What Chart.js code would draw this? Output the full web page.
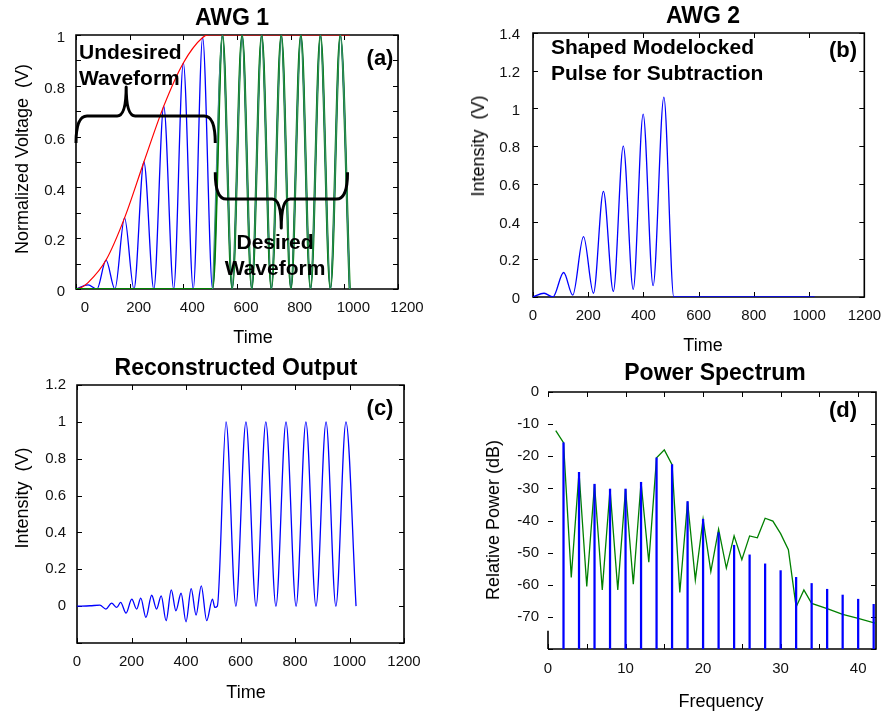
<!DOCTYPE html>
<html>
<head>
<meta charset="utf-8">
<script src="https://cdn.jsdelivr.net/npm/chart.js@4.4.0/dist/chart.umd.min.js"></script>
<style>
  body { margin: 0; background: #fff; }
  #fig { position: relative; width: 891px; height: 713px; font-family: Arial, "Liberation Sans", sans-serif; color: #000; overflow: hidden; }
  #fig canvas { position: absolute; }
  .t { position: absolute; white-space: pre; line-height: 1; transform: translate(-50%, -50%); }
  .l { position: absolute; white-space: pre; line-height: 1; transform: translate(0, -50%); }
  .title { font-weight: bold; font-size: 23px; }
  .ax { font-size: 18px; }
  .rot { transform: translate(-50%, -50%) rotate(-90deg); }
  .tag { font-weight: bold; font-size: 22px; }
  .note { font-weight: bold; font-size: 21px; }
</style>
</head>
<body>
<div id="fig">
  <canvas id="awg1" width="445" height="350" style="left:0;top:0"></canvas>
  <canvas id="awg2" width="446" height="350" style="left:445px;top:0"></canvas>
  <canvas id="recon" width="445" height="363" style="left:0;top:350px"></canvas>
  <canvas id="spectrum" width="446" height="363" style="left:445px;top:350px"></canvas>

  <div class="t title" style="left:232px;top:17px">AWG 1</div>
  <div class="t title" style="left:703px;top:15px">AWG 2</div>
  <div class="t title" style="left:236px;top:367px">Reconstructed Output</div>
  <div class="t title" style="left:715px;top:372px">Power Spectrum</div>

  <div class="t ax rot" style="left:22px;top:159px">Normalized Voltage  (V)</div>
  <div class="t ax" style="left:253px;top:337px">Time</div>
  <div class="t ax rot" style="left:478px;top:146px">Intensity  (V)</div>
  <div class="t ax" style="left:703px;top:345px">Time</div>
  <div class="t ax rot" style="left:22px;top:498px">Intensity  (V)</div>
  <div class="t ax" style="left:246px;top:692px">Time</div>
  <div class="t ax rot" style="left:493px;top:520px">Relative Power (dB)</div>
  <div class="t ax" style="left:721px;top:701px">Frequency</div>

  <div class="t tag" style="left:380px;top:58px">(a)</div>
  <div class="t tag" style="left:843px;top:50px">(b)</div>
  <div class="t tag" style="left:380px;top:408px">(c)</div>
  <div class="t tag" style="left:843px;top:410px">(d)</div>

  <div class="l note" style="left:79px;top:51px">Undesired</div>
  <div class="l note" style="left:79px;top:77px">Waveform</div>
  <div class="t note" style="left:275px;top:241px">Desired</div>
  <div class="t note" style="left:275px;top:267px">Waveform</div>
  <div class="l note" style="left:551px;top:46px">Shaped Modelocked</div>
  <div class="l note" style="left:551px;top:72px">Pulse for Subtraction</div>
</div>

<script>
// (a) AWG 1 - peaks and troughs
const awg1UndesiredTime = [0, 45, 78, 112, 145, 181, 216, 253, 290, 327, 364, 400, 437, 472, 509];
const awg1UndesiredLevel = [0, 0.016, 0, 0.114, 0, 0.28, 0, 0.5, 0, 0.72, 0, 0.89, 0, 0.99, 0];
const awg1DesiredTime = [509, 546, 582, 619, 655, 692, 728, 765, 801, 838, 874, 911, 948, 985, 1020];
const awg1DesiredLevel = [0, 1, 0, 1, 0, 1, 0, 1, 0, 1, 0, 1, 0, 1, 0];
const envelopeTime = [0, 20, 45, 112, 181, 253, 327, 400, 472, 495, 1020];
const envelopeLevel = [0, 0.006, 0.025, 0.114, 0.28, 0.5, 0.72, 0.89, 0.99, 1, 1];

// (b) AWG 2 shaped pulse
const pulseTime = [0, 40, 72, 111, 144, 183, 219, 255, 291, 327, 363, 399, 435, 474, 510, 1020];
const pulseLevel = [0, 0.02, 0, 0.13, 0.01, 0.32, 0.02, 0.56, 0.03, 0.80, 0.04, 0.97, 0.06, 1.06, 0, 0];

// (c) reconstructed output
const reconTime = [0, 48, 84, 106, 127, 146, 160, 180, 201, 219, 234, 253, 274, 292, 309, 327, 346, 363, 382,
  400, 419, 437, 456, 476, 497, 506, 515, 547, 583, 620, 657, 693, 730, 767, 804, 840, 877, 914, 950, 987, 1024];
const reconLevel = [0, 0.002, 0.005, -0.016, 0.016, -0.007, 0.02, -0.038, 0.038, -0.016, 0.043, -0.061, 0.059,
  -0.016, 0.056, -0.079, 0.088, -0.025, 0.07, -0.085, 0.095, -0.048, 0.11, -0.079, 0.038, -0.007, 0,
  1, 0, 1, 0, 1, 0, 1, 0, 1, 0, 1, 0, 1, 0];

// (d) power spectrum
const stemFreq = [2, 4, 6, 8, 10, 12, 14, 16, 18, 20, 22, 24, 26, 28, 30, 32, 34, 36, 38, 40, 42];
const stemPower = [-15.8, -25, -28.7, -30.2, -30.2, -28.1, -20.5, -22.6, -34.1, -39.6, -43.8, -47.7,
  -50.7, -53.5, -55.6, -57.7, -59.6, -61.4, -63.2, -64.5, -66.1];
const specFreq = [1, 2, 3, 4, 5, 6, 7, 8, 9, 10, 11, 12, 13, 14, 15, 16, 17, 18, 19, 20, 21, 22, 23, 24,
  25, 26, 27, 28, 29, 30, 31, 32, 33, 34, 36, 38, 40, 42.3];
const specPower = [-12, -15.8, -57.7, -25, -60.5, -28.7, -61.6, -30.2, -61.6, -30.2, -59.8, -28.1, -53,
  -20.5, -18, -22.6, -62.4, -34.1, -58.5, -39.6, -55.9, -42.7, -54.8, -44.8, -52.2, -44.8, -45.4, -39.3,
  -40.2, -44.1, -49.1, -66.9, -61.6, -65.8, -67.4, -69.2, -70.5, -72];

Chart.defaults.font.family = 'Arial, "Liberation Sans", sans-serif';
Chart.defaults.font.size = 15;
Chart.defaults.color = '#111';

function pts(xs, ys) {
  return xs.map((x, i) => ({ x: x, y: ys[i] }));
}

// tidy tick text, 0.8000000001 -> "0.8"
function fmt(v) {
  return String(+v.toFixed(3));
}

// box round the plot with inward ticks, MATLAB style
const frameTicks = {
  id: 'frameTicks',
  beforeDatasetsDraw(chart, args, opts) {
    const ctx = chart.ctx;
    const a = chart.chartArea;
    const xs = chart.scales.x, ys = chart.scales.y;
    ctx.save();
    ctx.strokeStyle = '#000';
    ctx.lineWidth = 1;
    ctx.beginPath();
    xs.ticks.forEach(t => {
      const px = Math.round(xs.getPixelForValue(t.value)) + 0.5;
      ctx.moveTo(px, a.bottom); ctx.lineTo(px, a.bottom - 5);
      ctx.moveTo(px, a.top); ctx.lineTo(px, a.top + 5);
    });
    ys.ticks.forEach(t => {
      const py = Math.round(ys.getPixelForValue(t.value)) + 0.5;
      ctx.moveTo(a.left, py); ctx.lineTo(a.left + 5, py);
      ctx.moveTo(a.right, py); ctx.lineTo(a.right - 5, py);
    });
    ctx.stroke();
    ctx.lineWidth = 1.6;
    ctx.beginPath();
    ctx.moveTo(a.left, a.top);
    ctx.lineTo(a.right, a.top);
    ctx.lineTo(a.right, a.bottom);
    ctx.lineTo(a.left, a.bottom);
    if (opts.leftTo !== undefined) {
      ctx.moveTo(a.left, a.bottom);
      ctx.lineTo(a.left, ys.getPixelForValue(opts.leftTo));
    } else {
      ctx.closePath();
    }
    ctx.stroke();
    ctx.restore();
  }
};

// curly braces in panel (a), placed in data units
const braces = [
  { x1: 0, x2: 519, xm: 187, yEnd: 0.575, yBar: 0.681, yTip: 0.795 },
  { x1: 519, x2: 1012, xm: 765, yEnd: 0.46, yBar: 0.354, yTip: 0.24 }
];
const bracePlugin = {
  id: 'bracePlugin',
  afterDatasetsDraw(chart) {
    const ctx = chart.ctx;
    const xs = chart.scales.x, ys = chart.scales.y;
    ctx.save();
    ctx.strokeStyle = '#000';
    ctx.lineWidth = 3;
    ctx.lineJoin = 'round';
    braces.forEach(b => {
      const x1 = xs.getPixelForValue(b.x1), x2 = xs.getPixelForValue(b.x2), xm = xs.getPixelForValue(b.xm);
      const ye = ys.getPixelForValue(b.yEnd), yb = ys.getPixelForValue(b.yBar), yt = ys.getPixelForValue(b.yTip);
      const r = 11, s = 9;
      ctx.beginPath();
      ctx.moveTo(x1, ye);
      ctx.quadraticCurveTo(x1, yb, x1 + r, yb);
      ctx.lineTo(xm - s, yb);
      ctx.quadraticCurveTo(xm, yb, xm, yt);
      ctx.quadraticCurveTo(xm, yb, xm + s, yb);
      ctx.lineTo(x2 - r, yb);
      ctx.quadraticCurveTo(x2, yb, x2, ye);
      ctx.stroke();
    });
    ctx.restore();
  }
};

function panelOptions(p) {
  return {
    responsive: false,
    animation: false,
    devicePixelRatio: 1,
    layout: { padding: p.pad },
    plugins: { legend: { display: false }, tooltip: { enabled: false }, frameTicks: p.frame || {} },
    elements: {
      point: { radius: 0 },
      line: { borderWidth: 1.3, cubicInterpolationMode: 'monotone' }
    },
    scales: {
      x: {
        type: 'linear', min: p.x[0], max: p.x[1], offset: false,
        grid: { display: false, drawTicks: false, offset: false }, border: { display: false },
        afterFit: s => { s.height = 30; },
        ticks: {
          stepSize: p.x[2], padding: p.xPad, labelOffset: p.xOffset || 0,
          includeBounds: false, autoSkip: false, maxRotation: 0,
          callback: p.xLabel || fmt
        }
      },
      y: {
        type: 'linear', min: p.y[0], max: p.y[1],
        grid: { display: false, drawTicks: false }, border: { display: false },
        afterFit: s => { s.width = 40; },
        ticks: {
          stepSize: p.y[2], padding: p.yPad, labelOffset: p.yOffset || 0,
          includeBounds: false, autoSkip: false,
          callback: p.yLabel || fmt
        }
      }
    }
  };
}

// (a)
new Chart(document.getElementById('awg1'), {
  type: 'line',
  data: {
    datasets: [
      { data: pts(awg1DesiredTime, awg1DesiredLevel), borderColor: '#3f8a84', borderWidth: 1.1 },
      { data: [{ x: 0, y: 0 }].concat(pts(awg1DesiredTime, awg1DesiredLevel)), borderColor: '#008000', borderWidth: 2.2 },
      { data: pts(envelopeTime, envelopeLevel), borderColor: '#ff0000', borderWidth: 1.2 },
      { data: pts(awg1UndesiredTime, awg1UndesiredLevel).concat(pts(awg1DesiredTime, awg1DesiredLevel).slice(1)), borderColor: '#0000ff' }
    ]
  },
  options: panelOptions({
    pad: { left: 36, right: 47, top: 35, bottom: 31 },
    x: [0, 1200, 200], xPad: 10, xOffset: 9,
    y: [0, 1, 0.1], yPad: 11, yOffset: 3,
    yLabel: v => (Math.round(v * 10) % 2 === 0 ? fmt(v) : '')
  }),
  plugins: [frameTicks, bracePlugin]
});

// (b)
new Chart(document.getElementById('awg2'), {
  type: 'line',
  data: { datasets: [{ data: pts(pulseTime, pulseLevel), borderColor: '#0000ff' }] },
  options: panelOptions({
    pad: { left: 48, right: 24, top: 33, bottom: 23 },
    x: [0, 1200, 200], xPad: 10,
    y: [0, 1.4, 0.2], yPad: 13, yOffset: 2
  }),
  plugins: [frameTicks]
});

// (c)
new Chart(document.getElementById('recon'), {
  type: 'line',
  data: { datasets: [{ data: pts(reconTime, reconLevel), borderColor: '#0000ff' }] },
  options: panelOptions({
    pad: { left: 37, right: 41, top: 35, bottom: 40 },
    x: [0, 1200, 200], xPad: 10,
    y: [-0.2, 1.2, 0.2], yPad: 11,
    yLabel: v => (v < -0.1 ? '' : fmt(v))
  }),
  plugins: [frameTicks]
});

// (d)
new Chart(document.getElementById('spectrum'), {
  data: {
    datasets: [
      { type: 'bar', data: pts(stemFreq, stemPower), base: -80, backgroundColor: '#0000ff', barThickness: 1.6, borderWidth: 0 },
      { type: 'line', data: pts(specFreq, specPower), borderColor: '#008000', borderWidth: 1.3, cubicInterpolationMode: 'default', tension: 0 }
    ]
  },
  options: panelOptions({
    pad: { left: 63, right: 15, top: 42, bottom: 34 },
    x: [0, 42.3, 5], xPad: 11,
    xLabel: v => (v % 10 === 0 ? fmt(v) : ''),
    y: [-80, 0, 10], yPad: 9,
    yLabel: v => (v === -80 ? '' : fmt(v)),
    frame: { leftTo: -74.3 }
  }),
  plugins: [frameTicks]
});
</script>
</body>
</html>
